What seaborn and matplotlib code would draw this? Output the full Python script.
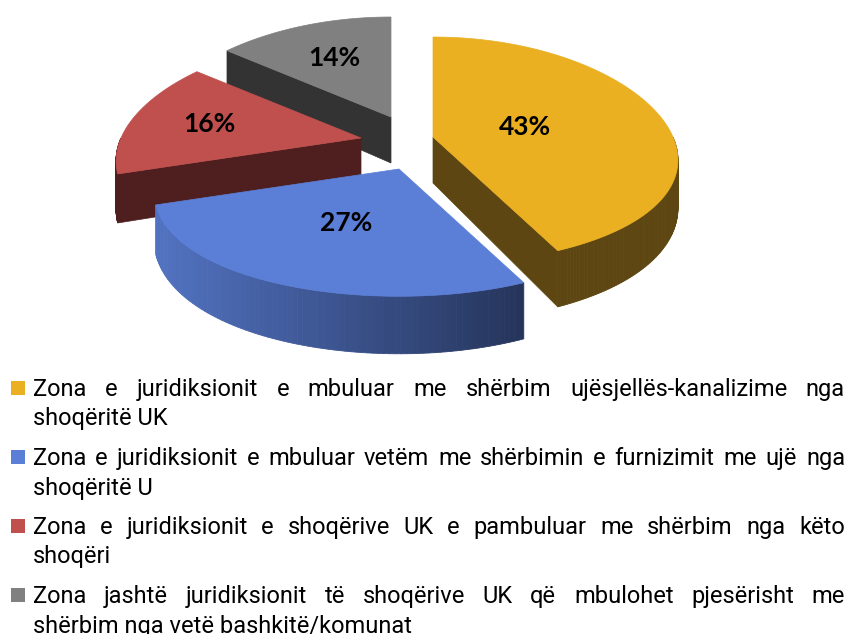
import numpy as np
import seaborn as sns
import matplotlib
matplotlib.use("Agg")
import matplotlib.pyplot as plt
from matplotlib.patches import Polygon

# data
shares = [43, 27, 16, 14]
pct_labels = ["43%", "27%", "16%", "14%"]
legend_lines = [
    ["Zona e juridiksionit e mbuluar me shërbim ujësjellës-kanalizime nga", "shoqëritë UK"],
    ["Zona e juridiksionit e mbuluar vetëm me shërbimin e furnizimit me ujë nga", "shoqëritë U"],
    ["Zona e juridiksionit e shoqërive UK e pambuluar me shërbim nga këto", "shoqëri"],
    ["Zona jashtë juridiksionit të shoqërive UK që mbulohet pjesërisht me", "shërbim nga vetë bashkitë/komunat"],
]
top_colors = ["#EAB022", "#5B7FD7", "#C0504D", "#808080"]
side_colors = [("#5D4611", "#5D4611"), ("#5273C2", "#25345A"), ("#4F1E1F", "#4F1E1F"), ("#333333", "#333333")]

# layout (pixels)
W, H = 850, 634
CX, CY = 405, 140
SX, SY = 240, 112          # radii of the top ellipse
KX, KY = 0.2, 0.12         # perspective
DEPTH, KD = 46, 0.2        # thickness
explode_px = [(28, -3), (-6, 29), (-44, -2), (-14, -23)]
label_r = [0.40, 0.50, 0.66, 0.62]

sns.set_theme(style="white")
plt.rcParams["font.family"] = ["Roboto", "DejaVu Sans"]

fig = plt.figure(figsize=(W / 100, H / 100), dpi=100)
ax = fig.add_axes([0, 0, 1, 1])
ax.set_xlim(0, W)
ax.set_ylim(H, 0)
ax.axis("off")


def project(ox, oy, u, v, h=0.0):
    x = ox + SX * u / (1 + KX * v)
    y = oy - SY * v / (1 + KY * v) + h * DEPTH / (1 + KD * v)
    return np.column_stack([x, y])


def arc(ox, oy, a, b, h=0.0, n=120):
    t = np.radians(np.linspace(a, b, n))
    return project(ox, oy, np.cos(t), np.sin(t), h)


bounds = 90 - 360 * np.cumsum([0] + shares) / sum(shares)

for i in [3, 2, 0, 1]:
    ox, oy = CX + explode_px[i][0], CY + explode_px[i][1]
    t_hi, t_lo = bounds[i], bounds[i + 1]
    apex_top = project(ox, oy, np.array([0.0]), np.array([0.0]), 0)[0]
    apex_bot = project(ox, oy, np.array([0.0]), np.array([0.0]), 1)[0]

    # radial side faces that face the viewer
    for t, vis in [(t_lo, np.cos(np.radians(t_lo)) > 1e-6), (t_hi, np.cos(np.radians(t_hi)) < -1e-6)]:
        if vis:
            tr = np.radians(t)
            pt = project(ox, oy, np.array([np.cos(tr)]), np.array([np.sin(tr)]), 0)[0]
            pb = project(ox, oy, np.array([np.cos(tr)]), np.array([np.sin(tr)]), 1)[0]
            ax.add_patch(Polygon([apex_top, pt, pb, apex_bot], closed=True,
                                 fc=side_colors[i][0], ec=side_colors[i][0], lw=0.5))

    # outer curved side (front half only)
    lo, hi = max(t_lo, -180), min(t_hi, 0)
    if hi > lo:
        n = 90
        top = arc(ox, oy, lo, hi, 0, n + 1)
        bot = arc(ox, oy, lo, hi, 1, n + 1)
        pal = sns.blend_palette(list(side_colors[i]), n_colors=64)
        xmin, xmax = top[:, 0].min(), top[:, 0].max()
        for k in range(n):
            xm = (top[k, 0] + top[k + 1, 0]) / 2
            c = pal[int(round((xm - xmin) / (xmax - xmin + 1e-9) * 63))]
            ax.add_patch(Polygon([top[k], top[k + 1], bot[k + 1], bot[k]], closed=True,
                                 fc=c, ec=c, lw=0.6))

    # top face
    face = np.vstack([apex_top, arc(ox, oy, t_lo, t_hi, 0)])
    ax.add_patch(Polygon(face, closed=True, fc=top_colors[i], ec=top_colors[i], lw=0.5))

    mid = np.radians((t_lo + t_hi) / 2)
    lx, ly = project(ox, oy, np.array([label_r[i] * np.cos(mid)]), np.array([label_r[i] * np.sin(mid)]), 0)[0]
    ax.text(lx, ly, pct_labels[i], ha="center", va="center", fontsize=19,
            fontweight="bold", color="black", family=["Lato", "DejaVu Sans"])

# legend with justified first lines
renderer = fig.canvas.get_renderer()
x_left, x_right = 33, 845
base0, entry_gap, line_gap = 396, 69, 29.5
fs = 17
for i, (first, second) in enumerate(legend_lines):
    yb = base0 + i * entry_gap
    ax.add_patch(plt.Rectangle((11, yb - 15), 14, 14, fc=top_colors[i], ec="none"))
    words = first.split(" ")
    texts = [ax.text(0, yb, w, ha="left", va="baseline", fontsize=fs, color="black") for w in words]
    widths = [t.get_window_extent(renderer).width for t in texts]
    gap = (x_right - x_left - sum(widths)) / (len(words) - 1)
    x = x_left
    for t, w in zip(texts, widths):
        t.set_x(x)
        x += w + gap
    ax.text(x_left, yb + line_gap, second, ha="left", va="baseline", fontsize=fs, color="black")

fig.savefig("out.png", dpi=100)
